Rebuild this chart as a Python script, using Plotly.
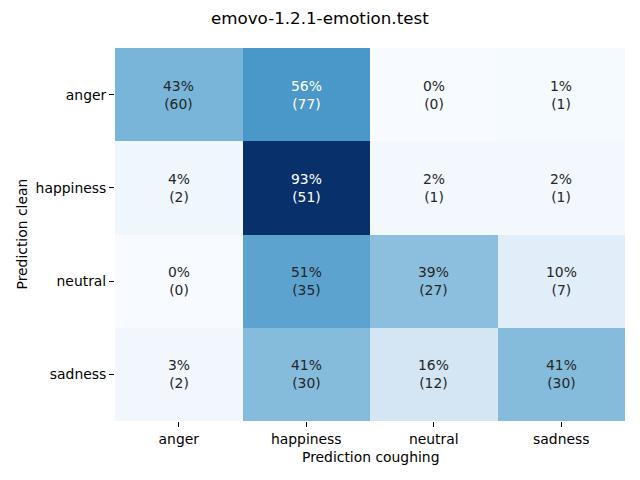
import plotly.graph_objects as go

categories = ["anger", "happiness", "neutral", "sadness"]
counts = [
    [60, 77, 0, 1],
    [2, 51, 1, 1],
    [0, 35, 27, 7],
    [2, 30, 12, 30],
]
percent_labels = [
    ["43%", "56%", "0%", "1%"],
    ["4%", "93%", "2%", "2%"],
    ["0%", "51%", "39%", "10%"],
    ["3%", "41%", "16%", "41%"],
]
title = "emovo-1.2.1-emotion.test"
x_title = "Prediction coughing"
y_title = "Prediction clean"

fractions = [[c / sum(row) for c in row] for row in counts]

blues = [
    [0.0, "#f7fbff"], [0.125, "#deebf7"], [0.25, "#c6dbef"], [0.375, "#9ecae1"],
    [0.5, "#6baed6"], [0.625, "#4292c6"], [0.75, "#2171b5"], [0.875, "#08519c"],
    [1.0, "#08306b"],
]

zmax = max(max(r) for r in fractions)
zmin = min(min(r) for r in fractions)

fig = go.Figure(go.Heatmap(
    z=fractions, x=categories, y=categories, colorscale=blues,
    zmin=zmin, zmax=zmax, showscale=False, xgap=0, ygap=0,
    hoverinfo="skip",
))

FONT = "DejaVu Sans"
FS = 13.9
annotations = []
for i, row in enumerate(counts):
    for j, c in enumerate(row):
        norm = (fractions[i][j] - zmin) / (zmax - zmin)
        color = "white" if norm > 0.58 else "#262626"
        annotations.append(dict(
            x=categories[j], y=categories[i],
            text=f"{percent_labels[i][j]}<br>({c})",
            showarrow=False, font=dict(color=color, size=FS, family=FONT),
        ))

# axis titles as paper annotations
annotations.append(dict(text=x_title, xref="paper", yref="paper", x=0.5, y=-(457 - 421) / 373,
                        yanchor="middle", xanchor="center", showarrow=False,
                        font=dict(size=FS, family=FONT, color="black")))
annotations.append(dict(text=y_title, xref="paper", yref="paper", x=-(115 - 21) / 510, y=0.5,
                        xanchor="center", yanchor="middle", textangle=-90, showarrow=False,
                        font=dict(size=FS, family=FONT, color="black")))
annotations.append(dict(text=title, xref="paper", yref="paper", x=(320 - 115) / 510,
                        y=1 + (48 - 18) / 373, xanchor="center", yanchor="middle",
                        showarrow=False, font=dict(size=16.7, family=FONT, color="black")))

fig.update_layout(
    width=640, height=480,
    margin=dict(l=107, r=23, t=40, b=67, autoexpand=False),
    paper_bgcolor="white", plot_bgcolor="white",
    font=dict(family=FONT, size=FS, color="black"),
    annotations=annotations,
    xaxis=dict(ticks="outside", ticklen=5, tickcolor="black", showgrid=False,
               zeroline=False, showline=False, automargin=False),
    yaxis=dict(ticks="outside", ticklen=5, tickcolor="black", autorange="reversed",
               showgrid=False, zeroline=False, showline=False, automargin=False),
)

fig.write_html("out.html")
